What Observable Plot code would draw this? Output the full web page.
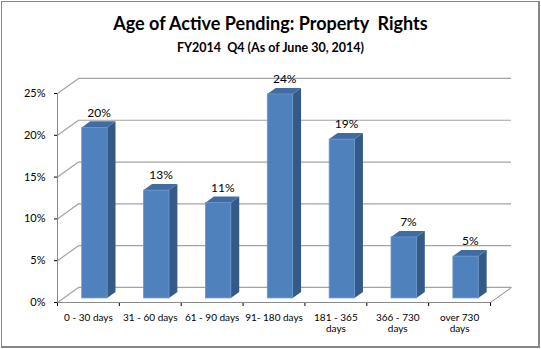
<!DOCTYPE html>
<html>
<head>
<meta charset="utf-8">
<script src="https://cdn.jsdelivr.net/npm/d3@7"></script>
<script src="https://cdn.jsdelivr.net/npm/@observablehq/plot@0.6"></script>
<style>
  html, body { margin: 0; padding: 0; background: #fff; }
  #wrap { position: relative; width: 541px; height: 349px; overflow: hidden; font-family: Lato, "Open Sans", sans-serif; }
  #title { position: absolute; left: 0; width: 541px; top: 12px; text-align: center; font-weight: bold; font-size: 18px; line-height: 22px; color: #000; }
  #subtitle { position: absolute; left: 0; width: 541px; top: 39px; text-align: center; font-weight: bold; font-size: 12.5px; line-height: 18px; color: #000; }
  #chart { position: absolute; left: 0; top: 62px; }
  #border { position: absolute; left: 1px; top: 1px; width: 536px; height: 344px; border-style: solid; border-color: #878787; border-width: 1px 2px 2px 1px; pointer-events: none; }
</style>
</head>
<body>
<div id="wrap">
  <div id="title">Age of Active Pending: Property&nbsp; Rights</div>
  <div id="subtitle">FY2014&nbsp; Q4 (As of June 30, 2014)</div>
  <div id="chart"></div>
  <div id="border"></div>
</div>
<script>
// Data
const categories = ["0 - 30 days", "31 - 60 days", "61 - 90 days", "91- 180 days", "181 - 365\ndays", "366 - 730\ndays", "over 730\ndays"];
const values = [20.4, 12.9, 11.4, 24.4, 19.0, 7.3, 5.0];
const valueLabels = ["20%", "13%", "11%", "24%", "19%", "7%", "5%"];
const yTicks = [0, 5, 10, 15, 20, 25];

// 3D depth (in data units) of the back wall, and bar placement within the box
const DX = 0.34, DY = 1.8;
const barFront = 0.27, barDepth = 0.4;
const bx = barFront * DX, by = barFront * DY;
const sx = barDepth * DX, sy = barDepth * DY;
const BAR_X1 = 0.40, BAR_X2 = 0.81;

const bars = categories.map((c, i) => ({i, c, v: values[i], label: valueLabels[i]}));

// side faces (parallelograms) as areas
const sides = bars.flatMap(d => [
  {i: d.i, x: d.i + BAR_X2, y1: by, y2: by + d.v},
  {i: d.i, x: d.i + BAR_X2 + sx, y1: by + sy, y2: by + sy + d.v}
]);
// top faces
const tops = bars.flatMap(d => [
  {i: d.i, y: by + d.v, x1: d.i + BAR_X1, x2: d.i + BAR_X2},
  {i: d.i, y: by + d.v + sy, x1: d.i + BAR_X1 + sx, x2: d.i + BAR_X2 + sx}
]);

const n = categories.length;
const grid = "#a3a3a3";

const chart = Plot.plot({
  width: 541,
  height: 287,
  marginLeft: 57,
  marginRight: 51,
  marginTop: 31,
  marginBottom: 47,
  style: {background: "transparent", fontFamily: "Lato, 'Open Sans', sans-serif", fontSize: "11px", color: "#000"},
  x: {domain: [0, n], ticks: d3.range(0, n + 1), tickFormat: () => "", tickSize: 4},
  y: {domain: [0, 25], ticks: yTicks, tickFormat: d => d + "%", tickSize: 3, tickPadding: 9},
  marks: [
    // back wall gridlines
    Plot.ruleY(yTicks, {y: d => d + DY, x1: DX, x2: n + DX, stroke: grid, strokeWidth: 1.2}),
    // left wall diagonals
    Plot.link(yTicks, {x1: 0, y1: d => d, x2: DX, y2: d => d + DY, stroke: grid, strokeWidth: 1.2}),
    // floor right diagonal
    Plot.link([n], {x1: d => d, y1: 0, x2: d => d + DX, y2: DY, stroke: "#8a8a8a", strokeWidth: 1}),
    // front axis lines
    Plot.ruleX([0], {y1: 0, y2: 25, stroke: "#8a8a8a"}),
    Plot.ruleY([0], {x1: 0, x2: n, stroke: "#8a8a8a"}),
    // bar side faces
    Plot.areaY(sides, {x: "x", y1: "y1", y2: "y2", z: "i", fill: "#355a88", curve: "linear"}),
    // bar top faces
    Plot.areaX(tops, {y: "y", x1: "x1", x2: "x2", z: "i", fill: "#416ca2", curve: "linear"}),
    // bar front faces
    Plot.rect(bars, {x1: d => d.i + BAR_X1, x2: d => d.i + BAR_X2, y1: by, y2: d => by + d.v, fill: "#4f81bd", stroke: "#6a95cb", strokeWidth: 0.8}),
    // value labels
    Plot.text(bars, {x: d => d.i + (BAR_X1 + BAR_X2) / 2 + sx / 2, y: d => by + d.v + sy, text: "label", dy: -9, fontSize: 12, fill: "#000"}),
    // category labels
    Plot.text(bars, {x: d => d.i + 0.5, y: 0, text: "c", dy: 10, lineAnchor: "top", lineHeight: 1.15, fontSize: 10, fill: "#000"})
  ]
});
document.getElementById("chart").appendChild(chart);
</script>
</body>
</html>
